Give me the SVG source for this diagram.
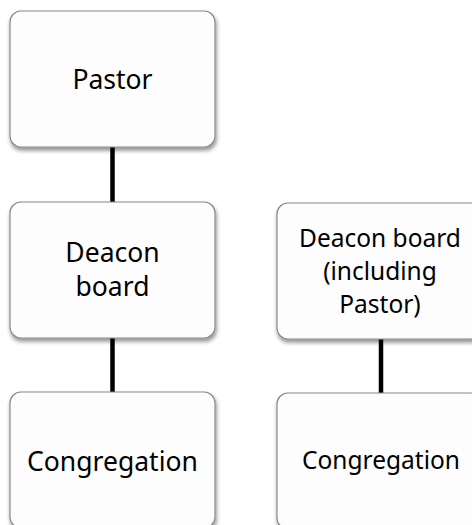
<svg xmlns="http://www.w3.org/2000/svg" width="472" height="525" viewBox="0 0 472 525">
<defs>
<filter id="sh" x="-10%" y="-10%" width="130%" height="130%">
<feGaussianBlur in="SourceAlpha" stdDeviation="2"/>
<feOffset dx="1" dy="3" result="b"/>
<feComponentTransfer><feFuncA type="linear" slope="0.45"/></feComponentTransfer>
<feMerge><feMergeNode/><feMergeNode in="SourceGraphic"/></feMerge>
</filter>
</defs>
<style>
.box{fill:#fdfdfd;stroke:#8a8a8a;stroke-width:1.2;filter:url(#sh)}
.t{font-family:"Noto Sans","Open Sans",sans-serif;fill:#000;text-anchor:middle}
.l{font-size:26.5px}
.r{font-size:24.5px}
.c{stroke:#000;stroke-width:4.5;fill:none}
</style>
<rect width="472" height="525" fill="#fff"/>
<g id="connectors">
<line class="c" x1="112.5" y1="147" x2="112.5" y2="202"/>
<line class="c" x1="112.5" y1="338" x2="112.5" y2="392"/>
<line class="c" x1="381" y1="339" x2="381" y2="393"/>
</g>
<g id="pastor">
<rect class="box" x="10" y="11" width="205" height="136" rx="11"/>
<text class="t l" x="112.5" y="89">Pastor</text>
</g>
<g id="deacon-board">
<rect class="box" x="10" y="202" width="205" height="136" rx="11"/>
<text class="t l" x="112.5" y="262">Deacon</text>
<text class="t l" x="112.5" y="296">board</text>
</g>
<g id="congregation-left">
<rect class="box" x="10" y="392" width="205" height="136" rx="11"/>
<text class="t l" x="112.5" y="471">Congregation</text>
</g>
<g id="deacon-board-including-pastor">
<rect class="box" x="277" y="203" width="205" height="136" rx="11"/>
<text class="t r" x="380" y="247">Deacon board</text>
<text class="t r" x="380" y="280">(including</text>
<text class="t r" x="380" y="313">Pastor)</text>
</g>
<g id="congregation-right">
<rect class="box" x="277" y="393" width="205" height="136" rx="11"/>
<text class="t r" x="381" y="469">Congregation</text>
</g>
</svg>
